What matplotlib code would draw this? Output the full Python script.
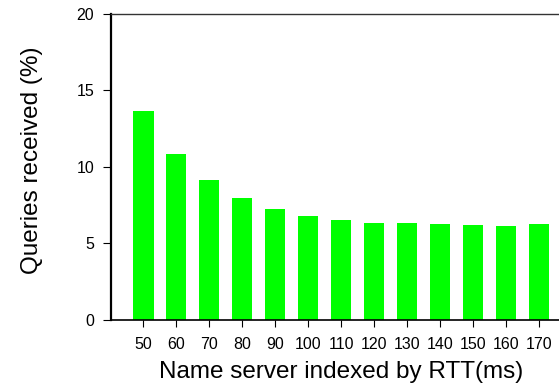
import matplotlib.pyplot as plt
import numpy as np

plt.rcParams['font.family'] = ['Liberation Sans', 'DejaVu Sans']

# data
rtt = ['50', '60', '70', '80', '90', '100', '110', '120', '130', '140', '150', '160', '170']
queries = [13.63, 10.83, 9.13, 7.96, 7.24, 6.78, 6.52, 6.33, 6.33, 6.26, 6.2, 6.13, 6.26]

fig = plt.figure(figsize=(5.59, 3.86), dpi=100)
# axes runs off the right edge, like the original crop
ax = fig.add_axes([0.1986, 0.171, 0.823, 0.794])

x = np.arange(len(rtt))
ax.bar(x, queries, width=0.62, color='#00ff00')

ax.set_xlim(-0.98, len(rtt) - 1 + 0.98)
ax.set_ylim(0, 20)
ax.set_yticks([0, 5, 10, 15, 20])
ax.set_xticks(x)
ax.set_xticklabels(rtt)

ax.spines['right'].set_visible(False)
ax.spines['left'].set_linewidth(1.6)
ax.spines['bottom'].set_linewidth(1.2)
ax.spines['top'].set_linewidth(1.0)
ax.spines['top'].set_color('#333333')

ax.tick_params(axis='y', direction='out', length=6, width=0.8, pad=6, labelsize=11.5)
ax.tick_params(axis='x', direction='out', length=5, width=0.8, pad=7, labelsize=11.5)

ax.set_xlabel('Name server indexed by RTT(ms)', fontsize=17.5)
ax.set_ylabel('Queries received (%)', fontsize=17.5)
ax.xaxis.set_label_coords(0.5, -0.135)
ax.yaxis.set_label_coords(-0.148, 0.52)

fig.savefig('out.png', dpi=100)
